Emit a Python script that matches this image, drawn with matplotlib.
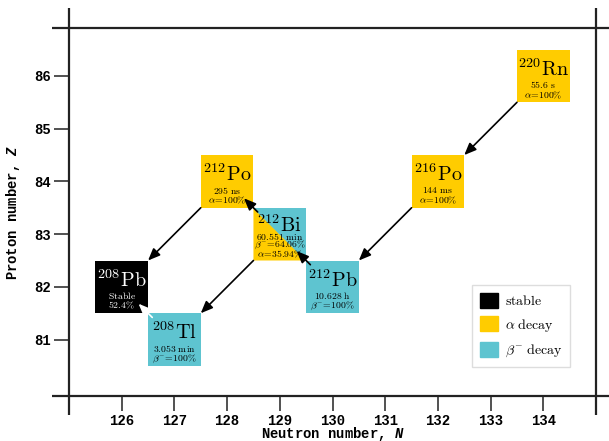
import matplotlib
matplotlib.use("Agg")
import matplotlib.pyplot as plt
from matplotlib.patches import Rectangle, Polygon, Patch

plt.rcParams['mathtext.fontset'] = 'cm'
# "custom" math fonts are used only by the axis labels (bold-italic variable letter)
plt.rcParams['mathtext.it'] = 'Liberation Mono:italic:bold'
plt.rcParams['mathtext.rm'] = 'Liberation Mono:bold'
plt.rcParams['mathtext.bf'] = 'Liberation Mono:bold'

# ---------------- data ----------------
nuclides = ["Pb208", "Tl208", "Po212", "Bi212", "Pb212", "Po216", "Rn220"]
symbols = ["Pb", "Tl", "Po", "Bi", "Pb", "Po", "Rn"]
mass_numbers = [208, 208, 212, 212, 212, 216, 220]
neutron_n = [126, 127, 128, 129, 130, 132, 134]
proton_z = [82, 81, 84, 83, 82, 84, 86]
modes = ["stable", "beta", "alpha", "alpha+beta", "beta", "alpha", "alpha"]
half_lives = ["Stable", "3.053 min", "295 ns", "60.551 min", "10.628 h", "144 ms", "55.6 s"]
branches = [
    [r"52.4\%"],
    [r"\beta^{-}\!=\!100\%"],
    [r"\alpha\!=\!100\%"],
    [r"\beta^{-}\!=\!64.06\%", r"\alpha\!=\!35.94\%"],
    [r"\beta^{-}\!=\!100\%"],
    [r"\alpha\!=\!100\%"],
    [r"\alpha\!=\!100\%"],
]
# decays: (parent, daughter, type)
decays = [
    ("Rn220", "Po216", "alpha"),
    ("Po216", "Pb212", "alpha"),
    ("Pb212", "Bi212", "beta"),
    ("Bi212", "Po212", "beta"),
    ("Bi212", "Tl208", "alpha"),
    ("Po212", "Pb208", "alpha"),
    ("Tl208", "Pb208", "beta"),
]
x_ticks = [126, 127, 128, 129, 130, 131, 132, 133, 134]
y_ticks = [81, 82, 83, 84, 85, 86]
legend_labels = [r"$\mathrm{stable}$", r"$\alpha\ \mathrm{decay}$", r"$\beta^{-}\ \mathrm{decay}$"]

# ---------------- style ----------------
C_STABLE = "#000000"
C_ALPHA = "#FFCC00"
C_BETA = "#5EC4D0"
colors = {"stable": C_STABLE, "alpha": C_ALPHA, "beta": C_BETA}
SPINE = "#222222"

fig = plt.figure(figsize=(6.09, 4.41), dpi=100)
ax = fig.add_axes([69 / 609, 45 / 441, 527 / 609, 368 / 441])
ax.set_xlim(125, 135)
ax.set_ylim(79.93, 86.91)

pos = {n: (x, y) for n, x, y in zip(nuclides, neutron_n, proton_z)}

for name, sym, A, N, Z, mode, hl, br in zip(nuclides, symbols, mass_numbers,
                                            neutron_n, proton_z, modes, half_lives, branches):
    if mode == "alpha+beta":
        ax.add_patch(Polygon([(N - 0.5, Z - 0.5), (N - 0.5, Z + 0.5), (N + 0.5, Z - 0.5)],
                             closed=True, facecolor=C_ALPHA, edgecolor="none", zorder=2))
        ax.add_patch(Polygon([(N - 0.5, Z + 0.5), (N + 0.5, Z + 0.5), (N + 0.5, Z - 0.5)],
                             closed=True, facecolor=C_BETA, edgecolor="none", zorder=2))
    else:
        ax.add_patch(Rectangle((N - 0.5, Z - 0.5), 1, 1, facecolor=colors[mode],
                               edgecolor="none", zorder=2))
    tc = "white" if mode == "stable" else "black"
    lines = [r"$\mathrm{" + hl.replace(" ", r"\ ") + "}$"] + ["$" + b + "$" for b in br]
    if len(lines) == 2:
        ly, offs = 0.13, [-0.17, -0.36]
    else:
        ly, offs = 0.17, [-0.04, -0.21, -0.38]
    ax.text(N, Z + ly, r"$^{%d}\mathrm{%s}$" % (A, sym), ha="center", va="center",
            fontsize=14.5, color=tc, zorder=4, math_fontfamily="cm")
    for t, o in zip(lines, offs):
        ax.text(N, Z + o, t, ha="center", va="center", fontsize=7, color=tc, zorder=4,
                math_fontfamily="cm")

for p, d, kind in decays:
    (pn, pz), (dn, dz) = pos[p], pos[d]
    if kind == "alpha":
        start = (pn - 0.5, pz - 0.5)
        end = (dn + 0.5, dz + 0.5)
    else:
        start = (pn - 0.42, pz + 0.42)
        end = (dn + 0.32, dz - 0.32)
    col = "white" if (kind == "beta" and modes[nuclides.index(d)] == "stable") else "black"
    ax.annotate("", xy=end, xytext=start,
                arrowprops=dict(arrowstyle="-|>,head_length=0.6,head_width=0.25",
                                color=col, lw=1.2, shrinkA=0, shrinkB=0,
                                mutation_scale=12),
                zorder=5)

# spines drawn as extended lines
for s in ax.spines.values():
    s.set_visible(False)
ext_x0, ext_x1 = -17 / 527, 1 + 13 / 527
ext_y0, ext_y1 = -19 / 368, 1 + 20 / 368
kw = dict(transform=ax.transAxes, color=SPINE, lw=1.6, clip_on=False, zorder=6,
          solid_capstyle="butt")
ax.plot([ext_x0, ext_x1], [0, 0], **kw)
ax.plot([ext_x0, ext_x1], [1, 1], **kw)
ax.plot([0, 0], [ext_y0, ext_y1], **kw)
ax.plot([1, 1], [ext_y0, ext_y1], **kw)

mono = "Liberation Mono"
ax.set_xticks(x_ticks)
ax.set_yticks(y_ticks)
ax.set_xticklabels([str(v) for v in x_ticks], fontfamily=mono, fontweight="bold", fontsize=10)
ax.set_yticklabels([str(v) for v in y_ticks], fontfamily=mono, fontweight="bold", fontsize=10)
ax.tick_params(direction="out", length=11, width=1.1, color=SPINE, pad=2)
ax.set_xlabel("Neutron number, $N$", fontfamily=mono, fontweight="bold", fontsize=10,
              labelpad=-2, math_fontfamily="custom")
ax.set_ylabel("Proton number, $Z$", fontfamily=mono, fontweight="bold", fontsize=10,
              labelpad=9, math_fontfamily="custom")

handles = [Patch(facecolor=C_STABLE, edgecolor=C_STABLE),
           Patch(facecolor=C_ALPHA, edgecolor=C_ALPHA),
           Patch(facecolor=C_BETA, edgecolor=C_BETA)]
leg = ax.legend(handles, legend_labels, loc="lower right", bbox_to_anchor=(0.951, 0.079),
                borderaxespad=0, fontsize=10, handlelength=1.3, handleheight=1.3,
                labelspacing=0.6, handletextpad=0.5, borderpad=0.55, fancybox=False,
                framealpha=1, edgecolor="#dddddd")
for t in leg.get_texts():
    t.set_math_fontfamily("cm")
leg.set_zorder(7)

fig.savefig("out.png", dpi=100)
